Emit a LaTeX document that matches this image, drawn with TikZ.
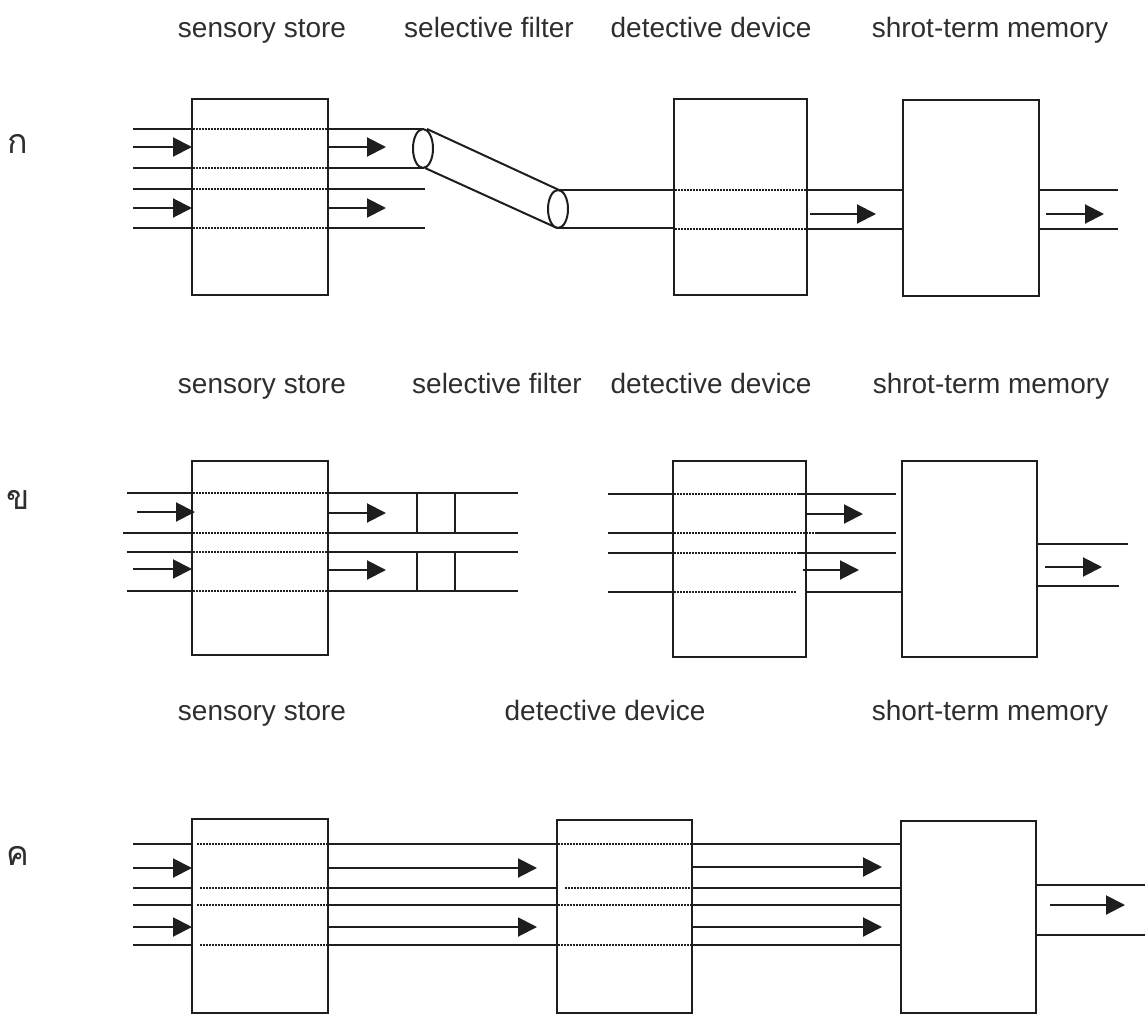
\documentclass[tikz,border=0pt]{standalone}
\usepackage{fontspec}
\setmainfont{Liberation Sans}
\newfontfamily\thaifont[Script=Thai]{Loma}
\usetikzlibrary{arrows.meta,shapes.geometric}
\definecolor{ink}{HTML}{1E1E1E}
\definecolor{txt}{HTML}{2E2E2E}
\tikzset{
  box/.style={draw=ink, line width=2pt, inner sep=0pt, outer sep=0pt, anchor=north west},
  chan/.style={draw=ink, line width=2pt},
  dots/.style={draw=ink, line width=2pt, dash pattern=on 1.5pt off 1.5pt},
  flow/.style={draw=ink, line width=2pt, -{Triangle[length=19pt,width=19pt]}},
  lbl/.style={text=txt, font=\fontsize{28}{32}\selectfont, anchor=base, inner sep=0pt},
  tlbl/.style={text=txt, font=\thaifont\fontsize{34}{38}\selectfont, inner sep=0pt},
  filt/.style={ellipse, draw=ink, line width=2pt, fill=white, inner sep=0pt, outer sep=0pt, minimum width=20pt}
}
\begin{document}
\begin{tikzpicture}[x=1pt,y=-1pt]
\useasboundingbox (0,0) rectangle (1145,1014);

% ---------- labels ----------
\node[tlbl] (ka) at (18,144) {ก};
\node[tlbl] (kho) at (18,500) {ข};
\node[tlbl] (kho2) at (18,856) {ค};

\node[lbl] (t11) at (262,38) {sensory store};
\node[lbl] (t12) at (489,38) {selective filter};
\node[lbl] (t13) at (711,38) {detective device};
\node[lbl] (t14) at (990,38) {shrot-term memory};

\node[lbl] (t21) at (262,393) {sensory store};
\node[lbl] (t22) at (497,393) {selective filter};
\node[lbl] (t23) at (711,393) {detective device};
\node[lbl] (t24) at (991,393) {shrot-term memory};

\node[lbl] (t31) at (262,720) {sensory store};
\node[lbl] (t33) at (605,720) {detective device};
\node[lbl] (t34) at (990,720) {short-term memory};

% ================= panel 1 =================
\node[box, minimum width=136pt, minimum height=196pt] (ss1) at (192,99) {};
\node[box, minimum width=133pt, minimum height=196pt] (dd1) at (674,99) {};
\node[box, minimum width=136pt, minimum height=196pt] (stm1) at (903,100) {};

\foreach \y in {129,168,189,228} {
  \draw[chan] (133,\y) -- (192,\y);
  \draw[dots] (193,\y) -- (327,\y);
}
\draw[flow] (133,147) -- (192,147);
\draw[flow] (133,208) -- (192,208);

\draw[chan] (328,129) -- (423,129);
\draw[chan] (328,168) -- (423,168);
\draw[chan] (328,189) -- (425,189);
\draw[chan] (328,228) -- (425,228);
\draw[flow] (328,147) -- (386,147);
\draw[flow] (328,208) -- (386,208);

% selective filter (tube)
\draw[chan] (427,129) -- (559,190);
\draw[chan] (425,168) -- (557,228);
\node[filt, minimum height=39pt] (el1) at (423,148.5) {};
\draw[chan] (558,190) -- (674,190);
\draw[chan] (558,228) -- (674,228);
\node[filt, minimum height=38pt] (el2) at (558,209) {};

\draw[dots] (675,190) -- (806,190);
\draw[dots] (675,229) -- (806,229);
\draw[chan] (807,190) -- (903,190);
\draw[chan] (807,229) -- (903,229);
\draw[flow] (810,214) -- (876,214);

\draw[chan] (1039,190) -- (1118,190);
\draw[chan] (1039,229) -- (1118,229);
\draw[flow] (1046,214) -- (1104,214);

% ================= panel 2 =================
\node[box, minimum width=136pt, minimum height=194pt] (ss2) at (192,461) {};
\node[box, minimum width=133pt, minimum height=196pt] (dd2) at (673,461) {};
\node[box, minimum width=135pt, minimum height=196pt] (stm2) at (902,461) {};

\draw[chan] (127,493) -- (192,493);
\draw[chan] (123,533) -- (192,533);
\draw[chan] (127,552) -- (192,552);
\draw[chan] (127,591) -- (192,591);
\foreach \y in {493,533,552,591} {
  \draw[dots] (193,\y) -- (327,\y);
  \draw[chan] (328,\y) -- (518,\y);
}
\draw[flow] (137,512) -- (195,512);
\draw[flow] (133,569) -- (192,569);
\draw[flow] (328,513) -- (386,513);
\draw[flow] (328,570) -- (386,570);
\draw[chan] (417,493) -- (417,533);
\draw[chan] (455,493) -- (455,533);
\draw[chan] (417,552) -- (417,591);
\draw[chan] (455,552) -- (455,591);

\foreach \y in {494,533,553,592} {
  \draw[chan] (608,\y) -- (673,\y);
}
\draw[dots] (674,494) -- (797,494);
\draw[dots] (674,533) -- (817,533);
\draw[dots] (674,553) -- (797,553);
\draw[dots] (674,592) -- (797,592);
\draw[chan] (797,494) -- (896,494);
\draw[chan] (817,533) -- (896,533);
\draw[chan] (797,553) -- (896,553);
\draw[chan] (806,592) -- (902,592);
\draw[flow] (806,514) -- (863,514);
\draw[flow] (803,570) -- (859,570);

\draw[chan] (1037,544) -- (1128,544);
\draw[chan] (1037,586) -- (1119,586);
\draw[flow] (1045,567) -- (1102,567);

% ================= panel 3 =================
\node[box, minimum width=136pt, minimum height=194pt] (ss3) at (192,819) {};
\node[box, minimum width=135pt, minimum height=193pt] (dd3) at (557,820) {};
\node[box, minimum width=135pt, minimum height=192pt] (stm3) at (901,821) {};

\foreach \y in {844,888,905,945} {
  \draw[chan] (133,\y) -- (192,\y);
  \draw[chan] (328,\y) -- (557,\y);
  \draw[chan] (692,\y) -- (901,\y);
}
\draw[dots] (197,844) -- (327,844);
\draw[dots] (200,888) -- (327,888);
\draw[dots] (197,905) -- (327,905);
\draw[dots] (200,945) -- (327,945);
\draw[dots] (558,844) -- (691,844);
\draw[dots] (565,888) -- (691,888);
\draw[dots] (558,905) -- (691,905);
\draw[dots] (558,945) -- (691,945);

\draw[flow] (133,868) -- (192,868);
\draw[flow] (133,927) -- (192,927);
\draw[flow] (328,868) -- (537,868);
\draw[flow] (328,927) -- (537,927);
\draw[flow] (692,867) -- (882,867);
\draw[flow] (692,927) -- (882,927);

\draw[chan] (1036,885) -- (1145,885);
\draw[chan] (1036,935) -- (1145,935);
\draw[flow] (1050,905) -- (1125,905);
\end{tikzpicture}
\end{document}
